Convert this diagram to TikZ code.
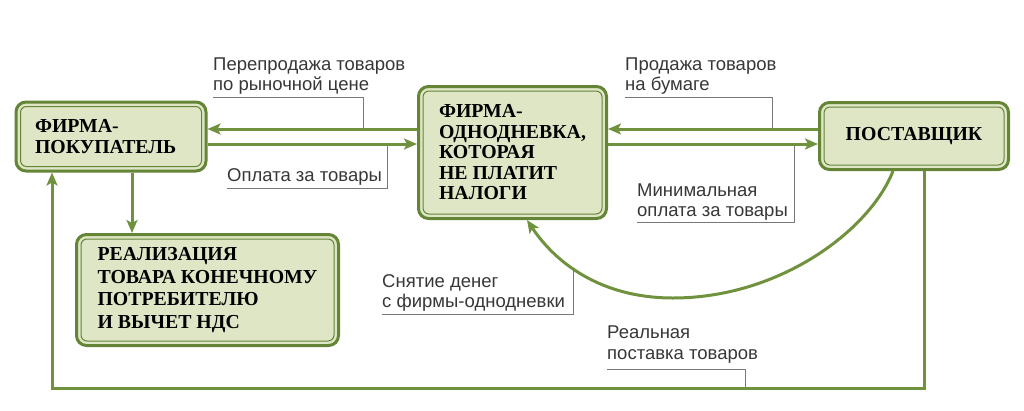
\documentclass[tikz,border=0pt]{standalone}
\usepackage{fontspec}
\setmainfont{Liberation Serif}
\setsansfont{Liberation Sans}
\usetikzlibrary{arrows.meta}
\definecolor{gr}{RGB}{112,146,62}
\definecolor{grd}{RGB}{100,132,54}
\definecolor{bf}{RGB}{222,230,198}
\definecolor{lbl}{RGB}{55,55,55}
\definecolor{thin}{RGB}{120,120,120}
\begin{document}
\begin{tikzpicture}[x=1pt,y=1pt,
 box/.style={draw=grd, line width=3pt, fill=bf, rounded corners=10pt, inner sep=0pt,
   font=\bfseries\fontsize{19.8}{20.5}\selectfont, align=left},
 inbox/.style={draw=grd, line width=1pt, rounded corners=6pt},
 arr/.style={draw=gr, line width=3pt, line join=miter, -{Stealth[length=13pt,width=11pt,inset=3pt]}},
 lab/.style={font=\sffamily\fontsize{18.5}{21}\selectfont, text=lbl, align=left, inner sep=0pt, anchor=base west},
 ln/.style={draw=thin, line width=0.8pt}]
\useasboundingbox (0,0) rectangle (1024,-410);

% boxes
\node[box, minimum width=190pt, minimum height=69pt, text width=152pt] (buy) at (111,-136.5) {ФИРМА-\\ПОКУПАТЕЛЬ};
\node[box, minimum width=188pt, minimum height=132pt] (shell) at (512.5,-152.5) {ФИРМА-\\ОДНОДНЕВКА,\\КОТОРАЯ\\НЕ ПЛАТИТ\\НАЛОГИ};
\node[box, minimum width=189pt, minimum height=67pt] (sup) at (914,-136) {ПОСТАВЩИК};
\node[box, minimum width=262pt, minimum height=111pt, font=\bfseries\fontsize{19.8}{22.5}\selectfont] (real) at (207.5,-290) {РЕАЛИЗАЦИЯ\\ТОВАРА КОНЕЧНОМУ\\ПОТРЕБИТЕЛЮ\\И ВЫЧЕТ НДС};
\foreach \b in {buy,shell,sup,real}
  \draw[inbox] ([xshift=6pt,yshift=-6pt]\b.north west) rectangle ([xshift=-6pt,yshift=6pt]\b.south east);

% levels
\coordinate (ya) at (0,-129);
\coordinate (yb) at (0,-144);
\coordinate (xd) at (132,0);
\coordinate (bl) at (52,-388);
\coordinate (br) at (924,-388);
\coordinate (cs) at (893,0);
\coordinate (ce) at (527,0);

% labels (anchor = baseline of last line)
\node[lab] (l1) at (213,-90) {Перепродажа товаров\\[-1.5pt]по рыночной цене};
\draw[ln] (213,-97) -- (363,-97) -- (363,-129);
\node[lab] (l2) at (227,-181.5) {Оплата за товары};
\draw[ln] (227,-188) -- (387,-188) -- (387,-144);
\node[lab] (l3) at (625,-90) {Продажа товаров\\[-1.5pt]на бумаге};
\draw[ln] (625,-97) -- (772,-97) -- (772,-129);
\node[lab] (l4) at (637,-216) {Минимальная\\[-1.5pt]оплата за товары};
\draw[ln] (637,-222.7) -- (794,-222.7) -- (794,-144);
\node[lab] (l5) at (382,-307.3) {Снятие денег\\[-1.5pt]с фирмы-однодневки};
\node[lab] (l6) at (607,-359.3) {Реальная\\[0pt]поставка товаров};
\draw[ln] (607,-369) -- (745,-369) -- (745,-388);

% connectors
\draw[arr] (shell.west |- ya) -- (buy.east |- ya);
\draw[arr] (buy.east |- yb) -- (shell.west |- yb);
\draw[arr] (sup.west |- ya) -- (shell.east |- ya);
\draw[arr] (shell.east |- yb) -- (sup.west |- yb);
\draw[arr] (buy.south -| xd) -- (real.north -| xd);
\draw[arr] (sup.south -| br) -- (br) -- (bl) -- (buy.south -| bl);
\draw[arr] (sup.south -| cs) .. controls (870,-230) and (780,-298) .. (673,-298)
   .. controls (600,-298) and (555,-262) .. coordinate[pos=0.57] (cv) (shell.south -| ce);
\draw[ln] (cv) -- (cv |- 0,-314.3) -- (382,-314.3);
\end{tikzpicture}
\end{document}
